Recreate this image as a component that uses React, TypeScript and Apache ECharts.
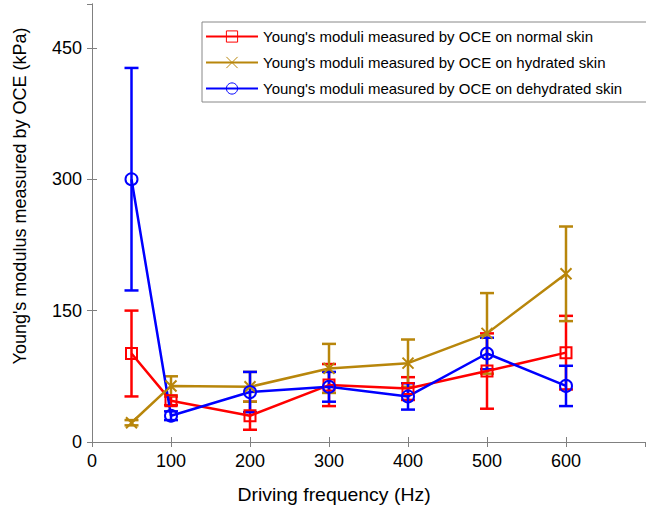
import React, { useEffect, useRef } from "react";
import * as echarts from "echarts";

const freq = [50, 100, 200, 300, 400, 500, 600];
const normalMean = [101, 47, 30, 65, 61, 81, 102];
const normalErr = [49, 5, 16, 24, 13, 43, 42];
const hydratedMean = [22, 64, 63, 84, 90, 124, 192];
const hydratedErr = [3, 11, 17, 28, 27, 46, 54];
const dehydratedMean = [300, 30, 57, 63, 52, 101, 64];
const dehydratedErr = [127, 5, 23, 17, 15, 18, 23];

const seriesNames = [
  "Young's moduli measured by OCE on normal skin",
  "Young's moduli measured by OCE on hydrated skin",
  "Young's moduli measured by OCE on dehydrated skin",
];
const colors = ["#FF0000", "#B8860B", "#0000FF"];
const xTicks = [0, 100, 200, 300, 400, 500, 600];
const yTicks = [0, 150, 300, 450];

const FONT = "'Liberation Sans', Arial, sans-serif";

function errorSeries(means: number[], errs: number[], color: string) {
  return {
    type: "custom",
    silent: true,
    z: 2,
    data: freq.map((f, i) => [f, means[i] - errs[i], means[i] + errs[i]]),
    encode: { x: 0, y: [1, 2] },
    renderItem: (params: any, api: any) => {
      const x = api.value(0);
      const lo = api.coord([x, api.value(1)]);
      const hi = api.coord([x, api.value(2)]);
      const hw = 7;
      const st = { stroke: color, lineWidth: 2.5 };
      return {
        type: "group",
        children: [
          { type: "line", shape: { x1: lo[0], y1: lo[1], x2: hi[0], y2: hi[1] }, style: st },
          { type: "line", shape: { x1: lo[0] - hw, y1: lo[1], x2: lo[0] + hw, y2: lo[1] }, style: st },
          { type: "line", shape: { x1: hi[0] - hw, y1: hi[1], x2: hi[0] + hw, y2: hi[1] }, style: st },
        ],
      };
    },
  };
}

function lineSeries(name: string, means: number[], color: string, symbol: string, size: number) {
  return {
    type: "line",
    name,
    z: 3,
    data: freq.map((f, i) => [f, means[i]]),
    symbol,
    symbolSize: size,
    showAllSymbol: true,
    lineStyle: { color, width: 2.5 },
    itemStyle: { color: "rgba(0,0,0,0)", borderColor: color, borderWidth: 2 },
    emphasis: { disabled: true },
  };
}

export default function App() {
  const ref = useRef<HTMLDivElement>(null);
  useEffect(() => {
    if (!ref.current) return;
    const chart = echarts.init(ref.current, undefined, { renderer: "svg" });
    const axisLineStyle = { color: "#808080", width: 1 };
    chart.setOption({
      animation: false,
      backgroundColor: "#ffffff",
      textStyle: { fontFamily: FONT },
      grid: { left: 92, right: 1, top: 4, bottom: 66, containLabel: false },
      legend: {
        data: seriesNames.map((n, i) => ({
          name: n,
          itemStyle: { color: "rgba(0,0,0,0)", borderColor: colors[i], borderWidth: 1 },
        })),
        orient: "vertical",
        left: 202,
        top: 22,
        padding: [7, 30, 6, 3],
        itemWidth: 52,
        itemHeight: 14,
        itemGap: 11,
        backgroundColor: "#ffffff",
        borderColor: "#888888",
        borderWidth: 1,
        textStyle: { fontFamily: FONT, fontSize: 15, color: "#000" },
        selectedMode: false,
      },
      xAxis: [
        {
          type: "value",
          min: 0,
          max: 700,
          interval: 100,
          axisLine: { show: true, lineStyle: axisLineStyle },
          axisTick: { show: true, inside: true, length: 5, lineStyle: axisLineStyle },
          axisLabel: {
            color: "#000",
            fontSize: 18,
            fontFamily: FONT,
            margin: 10,
            showMaxLabel: false,
            formatter: (v: number) => (xTicks.includes(v) ? String(v) : ""),
          },
          splitLine: { show: false },
        },
        {
          type: "value",
          position: "top",
          min: 0,
          max: 700,
          interval: 100,
          axisLine: { show: true, lineStyle: axisLineStyle },
          axisTick: { show: true, inside: true, length: 5, lineStyle: axisLineStyle },
          axisLabel: { show: false },
          splitLine: { show: false },
        },
      ],
      yAxis: [
        {
          type: "value",
          min: 0,
          max: 500,
          interval: 150,
          axisLine: { show: true, lineStyle: axisLineStyle },
          axisTick: { show: true, inside: true, length: 5, lineStyle: axisLineStyle },
          axisLabel: {
            color: "#000",
            fontSize: 18,
            fontFamily: FONT,
            margin: 10,
            showMaxLabel: false,
            formatter: (v: number) => (yTicks.includes(v) ? String(v) : ""),
          },
          splitLine: { show: false },
        },
        {
          type: "value",
          position: "right",
          min: 0,
          max: 500,
          interval: 150,
          axisLine: { show: true, lineStyle: axisLineStyle },
          axisTick: { show: true, inside: true, length: 5, lineStyle: axisLineStyle },
          axisLabel: { show: false },
          splitLine: { show: false },
        },
      ],
      graphic: [
        {
          type: "text",
          x: 20,
          y: 196,
          rotation: Math.PI / 2,
          style: {
            text: "Young's modulus measured by OCE (kPa)",
            fontSize: 18,
            fontFamily: FONT,
            fill: "#000",
            textAlign: "center",
            textVerticalAlign: "middle",
          },
        },
        {
          type: "text",
          x: 334,
          y: 495,
          scaleX: 1.08,
          style: {
            text: "Driving frequency (Hz)",
            fontSize: 18,
            fontFamily: FONT,
            fill: "#000",
            textAlign: "center",
            textVerticalAlign: "middle",
          },
        },
      ],
      series: [
        errorSeries(normalMean, normalErr, colors[0]),
        lineSeries(seriesNames[0], normalMean, colors[0], "rect", 11),
        errorSeries(hydratedMean, hydratedErr, colors[1]),
        lineSeries(seriesNames[1], hydratedMean, colors[1], "path://M0 0L10 10M10 0L0 10", 11),
        errorSeries(dehydratedMean, dehydratedErr, colors[2]),
        lineSeries(seriesNames[2], dehydratedMean, colors[2], "circle", 12),
      ],
    });
    return () => chart.dispose();
  }, []);
  return (
    <div
      ref={ref}
      style={{ position: "fixed", left: 0, top: 0, width: 646, height: 508 }}
    />
  );
}
